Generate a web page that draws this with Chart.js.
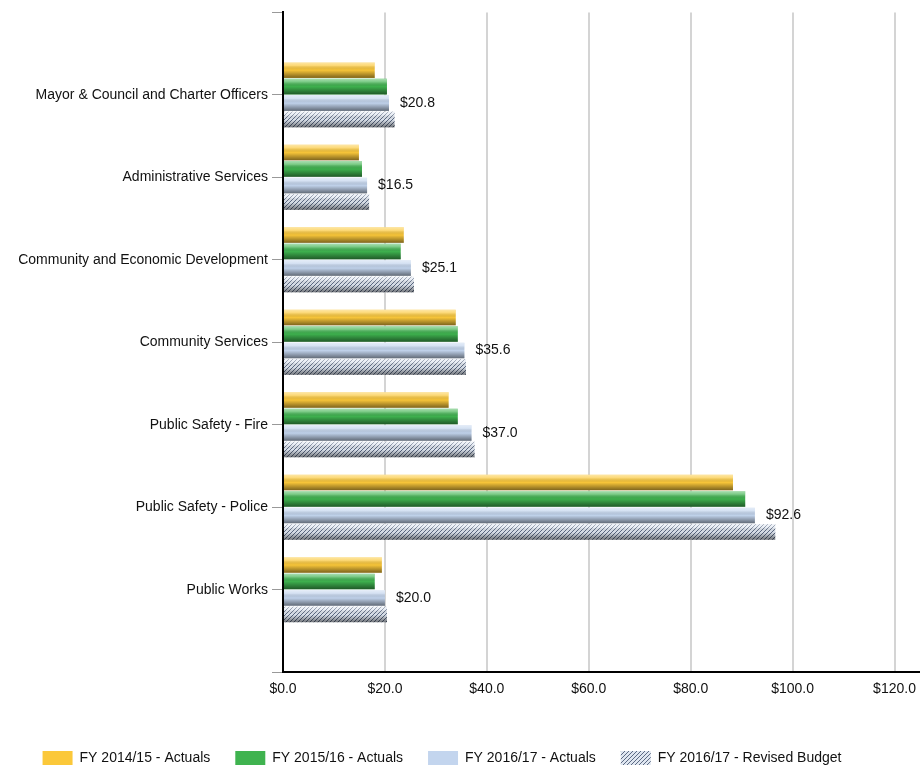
<!DOCTYPE html>
<html>
<head>
<meta charset="utf-8">
<script src="https://cdn.jsdelivr.net/npm/chart.js@4/dist/chart.umd.min.js"></script>
<style>
html,body{margin:0;padding:0;background:#fff;}
#wrap{width:920px;height:765px;}
</style>
</head>
<body>
<div id="wrap"><canvas id="c" width="920" height="765"></canvas></div>
<script>
const categories = ['Mayor & Council and Charter Officers','Administrative Services','Community and Economic Development','Community Services','Public Safety - Fire','Public Safety - Police','Public Works'];
const seriesNames = ['FY 2014/15 - Actuals','FY 2015/16 - Actuals','FY 2016/17 - Actuals','FY 2016/17 - Revised Budget'];
const fy1415 = [18.0, 14.9, 23.7, 33.9, 32.5, 88.3, 19.4];
const fy1516 = [20.4, 15.5, 23.1, 34.3, 34.3, 90.7, 18.0];
const fy1617 = [20.8, 16.5, 25.1, 35.6, 37.0, 92.6, 20.0];
const fy1617budget = [21.9, 16.9, 25.7, 35.9, 37.6, 96.6, 20.4];
const xTicks = [0, 20, 40, 60, 80, 100, 120];

const labels = [''].concat(categories).concat(['']);
const pad = arr => [null].concat(arr).concat([null]);
const FONT = '"Liberation Sans", Arial, sans-serif';

function makeHatch(){
  const c = document.createElement('canvas');
  c.width = 4; c.height = 4;
  const g = c.getContext('2d');
  g.fillStyle = '#dfe6f0';
  g.fillRect(0,0,4,4);
  g.strokeStyle = '#5c6a84';
  g.lineWidth = 1.0;
  g.beginPath();
  g.moveTo(-1,5); g.lineTo(5,-1);
  g.moveTo(-1,1); g.lineTo(1,-1);
  g.moveTo(3,5); g.lineTo(5,3);
  g.stroke();
  return document.getElementById('c').getContext('2d').createPattern(c,'repeat');
}
const hatch = makeHatch();

const shiftLegend = {
  id: 'shiftLegend',
  afterLayout(chart){
    const lg = chart.legend;
    if (lg) { lg.left -= 18; lg.right -= 18; }
  }
};

const shadePlugin = {
  id: 'shade',
  afterDatasetsDraw(chart){
    const ctx = chart.ctx;
    chart.data.datasets.forEach((ds, di) => {
      const meta = chart.getDatasetMeta(di);
      meta.data.forEach(el => {
        const p = el.getProps(['x','y','base','height'], true);
        if (p.x == null || isNaN(p.x) || Math.abs(p.x - p.base) < 0.5) return;
        const top = p.y - p.height/2, bot = p.y + p.height/2;
        const g = ctx.createLinearGradient(0, top, 0, bot);
        g.addColorStop(0, 'rgba(255,255,255,0.55)');
        g.addColorStop(0.2, 'rgba(255,255,255,0.3)');
        g.addColorStop(0.5, 'rgba(0,0,0,0.02)');
        g.addColorStop(1, 'rgba(0,0,0,0.5)');
        ctx.save();
        ctx.fillStyle = g;
        ctx.fillRect(Math.min(p.base,p.x), top, Math.abs(p.x - p.base), p.height);
        ctx.restore();
      });
    });
    // value labels for FY 2016/17 - Actuals
    const meta = chart.getDatasetMeta(2);
    ctx.save();
    ctx.font = '14px ' + FONT;
    ctx.fillStyle = '#111';
    ctx.textAlign = 'left';
    ctx.textBaseline = 'middle';
    meta.data.forEach((el, i) => {
      const v = chart.data.datasets[2].data[i];
      if (v == null) return;
      const p = el.getProps(['x','y'], true);
      ctx.fillText('$' + v.toFixed(1), p.x + 11, p.y);
    });
    ctx.restore();
  }
};

new Chart(document.getElementById('c'), {
  type: 'bar',
  data: {
    labels: labels,
    datasets: [
      {label: seriesNames[0], data: pad(fy1415), backgroundColor: '#fbc83a'},
      {label: seriesNames[1], data: pad(fy1516), backgroundColor: '#3fb34f'},
      {label: seriesNames[2], data: pad(fy1617), backgroundColor: '#c3d5ee'},
      {label: seriesNames[3], data: pad(fy1617budget), backgroundColor: hatch}
    ]
  },
  options: {
    indexAxis: 'y',
    responsive: false,
    animation: false,
    devicePixelRatio: 1,
    categoryPercentage: 0.8,
    barPercentage: 0.94,
    layout: {padding: {top: 8, left: 0, right: 0, bottom: -10}},
    scales: {
      x: {
        min: 0, max: 125,
        ticks: {
          stepSize: 20,
          padding: 9,
          color: '#111',
          font: {family: FONT, size: 14},
          callback: v => '$' + Number(v).toFixed(1)
        },
        afterBuildTicks: s => { s.ticks = xTicks.map(v => ({value: v})); },
        afterFit: s => { s.height += 19; s.paddingRight = 0; s.paddingLeft = 0; },
        grid: {color: '#d4d4d4', lineWidth: 2, drawTicks: false},
        border: {color: '#000', width: 2}
      },
      y: {
        type: 'category',
        offset: false,
        ticks: {
          autoSkip: false,
          padding: 4,
          color: '#111',
          font: {family: FONT, size: 14}
        },
        grid: {offset: false, drawOnChartArea: false, drawTicks: true, tickLength: 11, color: '#999', lineWidth: 1},
        border: {color: '#000', width: 2},
        afterFit: s => { s.width = 283; }
      }
    },
    plugins: {
      legend: {
        position: 'bottom',
        labels: {
          boxWidth: 30, boxHeight: 14, padding: 25,
          color: '#111',
          font: {family: FONT, size: 14}
        }
      },
      tooltip: {enabled: false}
    }
  },
  plugins: [shadePlugin, shiftLegend]
});
</script>
</body>
</html>
